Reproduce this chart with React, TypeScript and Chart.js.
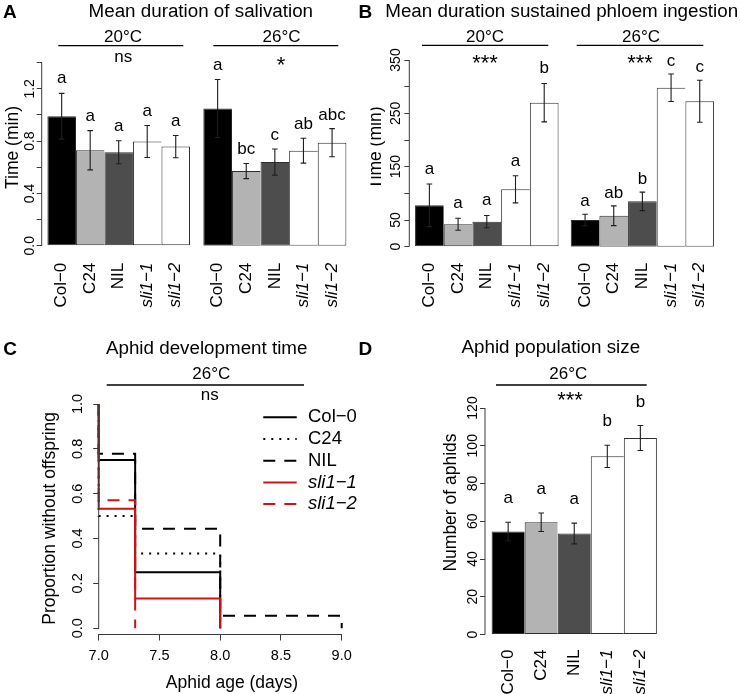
import React, { useEffect, useRef } from 'react';
import { Chart, registerables } from 'chart.js';

Chart.register(...registerables);

const W = 740;
const H = 694;
const FONT = "'Liberation Sans', Arial, Helvetica, sans-serif";
const AXIS = '#3a3a3a';

// ---------------- data ----------------
const genotypes = ['Col−0', 'C24', 'NIL', 'sli1−1', 'sli1−2'];
const barColors = ['#000000', '#b3b3b3', '#4d4d4d', '#ffffff', '#ffffff'];

const salivation20 = [0.99, 0.73, 0.715, 0.797, 0.758];
const salivation20Se = [0.175, 0.15, 0.088, 0.122, 0.085];
const salivation20Letters = ['a', 'a', 'a', 'a', 'a'];
const salivation26 = [1.05, 0.571, 0.64, 0.727, 0.788];
const salivation26Se = [0.222, 0.058, 0.1, 0.095, 0.108];
const salivation26Letters = ['a', 'bc', 'c', 'ab', 'abc'];
const salivationTicks = [0, 0.2, 0.4, 0.6, 0.8, 1.0, 1.2, 1.4];
const salivationTickLabels = ['0.0', '', '0.4', '', '0.8', '', '1.2', ''];

const phloem20 = [77.6, 42, 47, 107.6, 270];
const phloem20Se = [40, 11.2, 11.6, 25.5, 36];
const phloem20Letters = ['a', 'a', 'a', 'a', 'b'];
const phloem26 = [50, 58, 85, 298, 272.6];
const phloem26Se = [10.7, 18.5, 17.3, 25.7, 39.4];
const phloem26Letters = ['a', 'ab', 'b', 'c', 'c'];
const phloemTicks = [0, 50, 100, 150, 200, 250, 300, 350];
const phloemTickLabels = ['0', '50', '', '150', '', '250', '', '350'];

const population = [54.6, 59.5, 53.5, 94.4, 104.1];
const populationSe = [4.9, 4.9, 5.5, 5.9, 6.6];
const populationLetters = ['a', 'a', 'a', 'b', 'b'];
const populationTicks = [0, 20, 40, 60, 80, 100, 120];
const populationTickLabels = ['0', '20', '40', '60', '80', '100', '120'];

const devCol0 = [[7.0, 1.0], [7.0, 0.75], [7.3, 0.25], [8.0, 0.0]];
const devC24 = [[7.0, 1.0], [7.0, 0.5], [7.3, 0.333], [8.0, 0.0]];
const devNIL = [[7.0, 1.0], [7.0, 0.778], [7.3, 0.444], [8.0, 0.056], [9.0, 0.0]];
const devSli11 = [[7.0, 1.0], [7.0, 0.533], [7.3, 0.133], [8.0, 0.0]];
const devSli12 = [[7.0, 1.0], [7.0, 0.571], [7.3, 0.0]];
const ageTicks = [7.0, 7.5, 8.0, 8.5, 9.0];
const propTicks = [0, 0.2, 0.4, 0.6, 0.8, 1.0];
const propTickLabels = ['0.0', '0.2', '0.4', '0.6', '0.8', '1.0'];

// ---------------- helpers ----------------
const isItalic = (s: string) => !!s && s.startsWith('sli');

type Item = any;
const T = (text: string, x: number, y: number, size: number, extra: any = {}): Item => ({ kind: 'text', text, x, y, size, ...extra });
const L = (x1: number, x2: number, y: number): Item => ({ kind: 'line', x1, x2, y });

function decorPlugin(items: Item[]) {
  return {
    id: 'decor',
    afterDraw(chart: any) {
      const ctx = chart.ctx;
      for (const it of items) {
        ctx.save();
        if (it.kind === 'line') {
          ctx.strokeStyle = '#000';
          ctx.lineWidth = 1.3;
          ctx.beginPath();
          ctx.moveTo(it.x1, it.y);
          ctx.lineTo(it.x2, it.y);
          ctx.stroke();
        } else {
          if (it.clipLeft !== undefined) {
            ctx.beginPath();
            ctx.rect(it.clipLeft, 0, W, H);
            ctx.clip();
          }
          ctx.font = `${it.italic ? 'italic' : 'normal'} ${it.bold ? 'bold' : 'normal'} ${it.size}px ${FONT}`;
          ctx.fillStyle = '#000';
          ctx.textAlign = it.align || 'center';
          ctx.textBaseline = 'alphabetic';
          ctx.translate(it.x, it.y);
          if (it.rot) ctx.rotate(-Math.PI / 2);
          ctx.fillText(it.text, 0, 0);
        }
        ctx.restore();
      }
    },
  };
}

function yAxisPlugin(ticks: number[], labels: string[], size: number, gap: number) {
  return {
    id: 'raxis',
    afterDraw(chart: any) {
      const s = chart.scales.y;
      const ctx = chart.ctx;
      const x0 = chart.chartArea.left;
      ctx.save();
      ctx.strokeStyle = AXIS;
      ctx.lineWidth = 1;
      ctx.beginPath();
      ctx.moveTo(x0, s.getPixelForValue(ticks[0]));
      ctx.lineTo(x0, s.getPixelForValue(ticks[ticks.length - 1]));
      ctx.stroke();
      ctx.font = `${size}px ${FONT}`;
      ctx.fillStyle = '#000';
      ctx.textAlign = 'center';
      ctx.textBaseline = 'alphabetic';
      ticks.forEach((v, i) => {
        const lab = labels[i];
        if (!lab) return;
        ctx.save();
        ctx.translate(x0 - gap, s.getPixelForValue(v));
        ctx.rotate(-Math.PI / 2);
        ctx.fillText(lab, 0, 0);
        ctx.restore();
      });
      ctx.restore();
    },
  };
}

function errPlugin(values: number[], se: number[], letters: string[], gap: number) {
  return {
    id: 'errbars',
    afterDatasetsDraw(chart: any) {
      const meta = chart.getDatasetMeta(0);
      const s = chart.scales.y;
      const ctx = chart.ctx;
      ctx.save();
      meta.data.forEach((el: any, i: number) => {
        const x = el.x;
        const top = s.getPixelForValue(values[i] + se[i]);
        const bot = s.getPixelForValue(values[i] - se[i]);
        ctx.strokeStyle = '#1e1e1e';
        ctx.lineWidth = 1.1;
        ctx.beginPath();
        ctx.moveTo(x, top);
        ctx.lineTo(x, bot);
        ctx.moveTo(x - 2.8, top);
        ctx.lineTo(x + 2.8, top);
        ctx.moveTo(x - 2.8, bot);
        ctx.lineTo(x + 2.8, bot);
        ctx.stroke();
        ctx.fillStyle = '#000';
        ctx.font = `17px ${FONT}`;
        ctx.textAlign = 'center';
        ctx.textBaseline = 'alphabetic';
        ctx.fillText(letters[i], x, top - gap);
      });
      ctx.restore();
    },
  };
}

function legendPlugin(x: number, y: number, dy: number, len: number, textX: number) {
  return {
    id: 'rlegend',
    afterDraw(chart: any) {
      const ctx = chart.ctx;
      chart.data.datasets.forEach((ds: any, i: number) => {
        const yy = y + i * dy;
        ctx.save();
        ctx.strokeStyle = ds.borderColor;
        ctx.lineWidth = ds.borderWidth;
        ctx.setLineDash(ds.borderDash || []);
        ctx.beginPath();
        ctx.moveTo(x, yy);
        ctx.lineTo(x + len, yy);
        ctx.stroke();
        ctx.setLineDash([]);
        ctx.fillStyle = '#000';
        ctx.font = `${isItalic(ds.label) ? 'italic ' : ''}18.5px ${FONT}`;
        ctx.textAlign = 'left';
        ctx.textBaseline = 'middle';
        ctx.fillText(ds.label, textX, yy);
        ctx.restore();
      });
    },
  };
}

type Area = { left: number; right: number; top: number; bottom: number };

// bottom padding is 0: the x scale itself is given the height H - area.bottom
const baseOptions = (area: Area) => ({
  responsive: false,
  maintainAspectRatio: false,
  animation: false,
  devicePixelRatio: 1,
  events: [],
  layout: { padding: { left: area.left, right: W - area.right, top: area.top, bottom: 0 } },
  plugins: { legend: { display: false }, tooltip: { enabled: false }, title: { display: false } },
});

function barChart(o: {
  values: number[]; se: number[]; letters: string[]; area: Area; yMax: number;
  ticks: number[]; tickLabels: string[]; showY: boolean; gap: number; decor?: Item[]; labelGap?: number; xPad: number;
}) {
  const plugins: any[] = [errPlugin(o.values, o.se, o.letters, o.gap)];
  if (o.showY) plugins.push(yAxisPlugin(o.ticks, o.tickLabels, 14, o.labelGap || 8));
  if (o.decor) plugins.push(decorPlugin(o.decor));
  const n = genotypes.length;
  const xHeight = H - o.area.bottom;
  return {
    type: 'bar',
    data: {
      datasets: [
        {
          data: o.values.map((v, i) => ({ x: i, y: v })),
          backgroundColor: barColors,
          borderColor: '#2e2e2e',
          borderWidth: (c: any) => ({ top: 1, bottom: 1, left: 1, right: c.dataIndex === n - 1 ? 1 : 0 }),
          borderSkipped: false,
          barPercentage: 1,
          categoryPercentage: 1,
          inflateAmount: 0,
        },
      ],
    },
    options: {
      ...baseOptions(o.area),
      scales: {
        x: {
          type: 'linear',
          min: -0.7,
          max: n - 0.3,
          offset: false,
          afterBuildTicks: (s: any) => { s.ticks = genotypes.map((_, i) => ({ value: i })); },
          afterFit: (s: any) => { s.height = xHeight; },
          grid: { display: false },
          border: { display: false },
          ticks: {
            autoSkip: false,
            minRotation: 90,
            maxRotation: 90,
            padding: o.xPad,
            color: '#000',
            callback: (v: any) => genotypes[Math.round(v)],
            font: (c: any) => ({ family: FONT, size: 17, style: isItalic(genotypes[c.index]) ? 'italic' : 'normal' }),
          },
        },
        y: o.showY
          ? {
              min: 0,
              max: o.yMax,
              afterBuildTicks: (s: any) => { s.ticks = o.ticks.map((v) => ({ value: v })); },
              afterFit: (s: any) => { s.width = 0; },
              border: { display: false },
              grid: { drawOnChartArea: false, drawTicks: true, tickLength: 5, color: AXIS, lineWidth: 1 },
              ticks: { display: false },
            }
          : { display: false, min: 0, max: o.yMax },
      },
    },
    plugins,
  };
}

// ---------------- chart factories ----------------
const makeA20 = () =>
  barChart({
    values: salivation20, se: salivation20Se, letters: salivation20Letters,
    area: { left: 41.7, right: 195.7, top: 62.7, bottom: 245.7 },
    yMax: 1.4, ticks: salivationTicks, tickLabels: salivationTickLabels, showY: true, gap: 10, labelGap: 7.5, xPad: 9,
    decor: [
      T('A', 3, 18.3, 19, { bold: true, align: 'left' }),
      T('Mean duration of salivation', 200.8, 17.3, 18.8),
      T('20°C', 123, 42.3, 17),
      L(58.3, 183.3, 45.7),
      T('ns', 123.3, 61.7, 17),
      T('26°C', 281.5, 42.3, 17),
      L(213.3, 338.3, 45.7),
      T('*', 281, 71.5, 22),
      T('Time (min)', 18, 147.5, 17.5, { rot: true }),
    ],
  });

const makeA26 = () =>
  barChart({
    values: salivation26, se: salivation26Se, letters: salivation26Letters,
    area: { left: 197.6, right: 352.1, top: 62.7, bottom: 245.7 },
    yMax: 1.4, ticks: salivationTicks, tickLabels: salivationTickLabels, showY: false, gap: 9, xPad: 9,
  });

const makeB20 = () =>
  barChart({
    values: phloem20, se: phloem20Se, letters: phloem20Letters,
    area: { left: 409.3, right: 564.3, top: 60, bottom: 246.7 },
    yMax: 350, ticks: phloemTicks, tickLabels: phloemTickLabels, showY: true, gap: 10, labelGap: 9, xPad: 8,
    decor: [
      T('B', 358.5, 18.3, 19, { bold: true, align: 'left' }),
      T('Mean duration sustained phloem ingestion', 561.7, 17.3, 18.8),
      T('20°C', 485, 42.3, 17),
      L(422, 548.3, 45.3),
      T('***', 485, 70, 22),
      T('26°C', 641, 42.3, 17),
      L(576.7, 703.3, 45.3),
      T('***', 640, 70, 22),
      T('Time (min)', 381, 148, 17.5, { rot: true, clipLeft: 370.5 }),
    ],
  });

const makeB26 = () =>
  barChart({
    values: phloem26, se: phloem26Se, letters: phloem26Letters,
    area: { left: 565, right: 719.8, top: 60, bottom: 246.7 },
    yMax: 350, ticks: phloemTicks, tickLabels: phloemTickLabels, showY: false, gap: 8, xPad: 8,
  });

const makeD = () =>
  barChart({
    values: population, se: populationSe, letters: populationLetters,
    area: { left: 485, right: 663.5, top: 408, bottom: 634.5 },
    yMax: 120, ticks: populationTicks, tickLabels: populationTickLabels, showY: true, gap: 19, labelGap: 8.5, xPad: 7,
    decor: [
      T('D', 358.5, 355, 19, { bold: true, align: 'left' }),
      T('Aphid population size', 550.8, 353.3, 18.8),
      T('26°C', 568.3, 379.3, 17),
      L(496, 646.7, 385),
      T('***', 570, 406.5, 22),
      T('Number of aphids', 456, 502.5, 17.5, { rot: true }),
    ],
  });

const makeC = () => {
  const area = { left: 98.7, right: 341.7, top: 404, bottom: 634.5 };
  const xHeight = H - area.bottom;
  const line = (label: string, pts: number[][], color: string, dash: number[], order: number) => ({
    label,
    data: pts.map(([x, y]) => ({ x, y })),
    borderColor: color,
    borderWidth: 2,
    borderDash: dash,
    stepped: true,
    pointRadius: 0,
    fill: false,
    clip: false,
    order,
    tension: 0,
  });
  return {
    type: 'line',
    data: {
      datasets: [
        line(genotypes[0], devCol0, '#000000', [], 2),
        line(genotypes[1], devC24, '#000000', [2, 6], 4),
        line(genotypes[2], devNIL, '#000000', [12, 9], 3),
        line(genotypes[3], devSli11, '#cc1414', [], 0),
        line(genotypes[4], devSli12, '#cc1414', [12, 9], 1),
      ],
    },
    options: {
      ...baseOptions(area),
      scales: {
        x: {
          type: 'linear',
          min: ageTicks[0],
          max: ageTicks[ageTicks.length - 1],
          afterBuildTicks: (s: any) => { s.ticks = ageTicks.map((v) => ({ value: v })); },
          afterFit: (s: any) => { s.height = xHeight; },
          border: { display: true, color: AXIS, width: 1 },
          grid: { drawOnChartArea: false, drawTicks: true, tickLength: 6, color: AXIS },
          ticks: {
            maxRotation: 0,
            minRotation: 0,
            autoSkip: false,
            padding: 6.5,
            color: '#000',
            font: { family: FONT, size: 14.5 },
            callback: (v: any) => Number(v).toFixed(1),
          },
        },
        y: {
          min: -0.028,
          max: 1.0,
          afterBuildTicks: (s: any) => { s.ticks = propTicks.map((v) => ({ value: v })); },
          afterFit: (s: any) => { s.width = 0; },
          border: { display: false },
          grid: { drawOnChartArea: false, drawTicks: true, tickLength: 5.5, color: AXIS },
          ticks: { display: false },
        },
      },
    },
    plugins: [
      yAxisPlugin(propTicks, propTickLabels, 14.5, 17),
      legendPlugin(263.3, 417.3, 21.7, 33.4, 308),
      decorPlugin([
        T('C', 3.3, 355, 19, { bold: true, align: 'left' }),
        T('Aphid development time', 206.7, 354, 18.8),
        T('26°C', 211.3, 379.3, 17),
        L(106.7, 304, 385),
        T('ns', 209.7, 400, 17),
        T('Proportion without offspring', 54.5, 518.3, 17.5, { rot: true }),
        T('Aphid age (days)', 232, 688, 17.5),
      ]),
    ],
  };
};

function ChartCanvas({ make }: { make: () => any }) {
  const ref = useRef<HTMLCanvasElement | null>(null);
  useEffect(() => {
    if (!ref.current) return;
    const chart = new Chart(ref.current, make());
    return () => chart.destroy();
  }, [make]);
  return (
    <canvas
      ref={ref}
      width={W}
      height={H}
      style={{ position: 'absolute', left: 0, top: 0, width: W, height: H }}
    />
  );
}

const makers = [makeA20, makeA26, makeB20, makeB26, makeC, makeD];

export default function App() {
  return (
    <div style={{ position: 'absolute', left: 0, top: 0, width: W, height: H, background: '#fff' }}>
      {makers.map((m, i) => (
        <ChartCanvas key={i} make={m} />
      ))}
    </div>
  );
}
